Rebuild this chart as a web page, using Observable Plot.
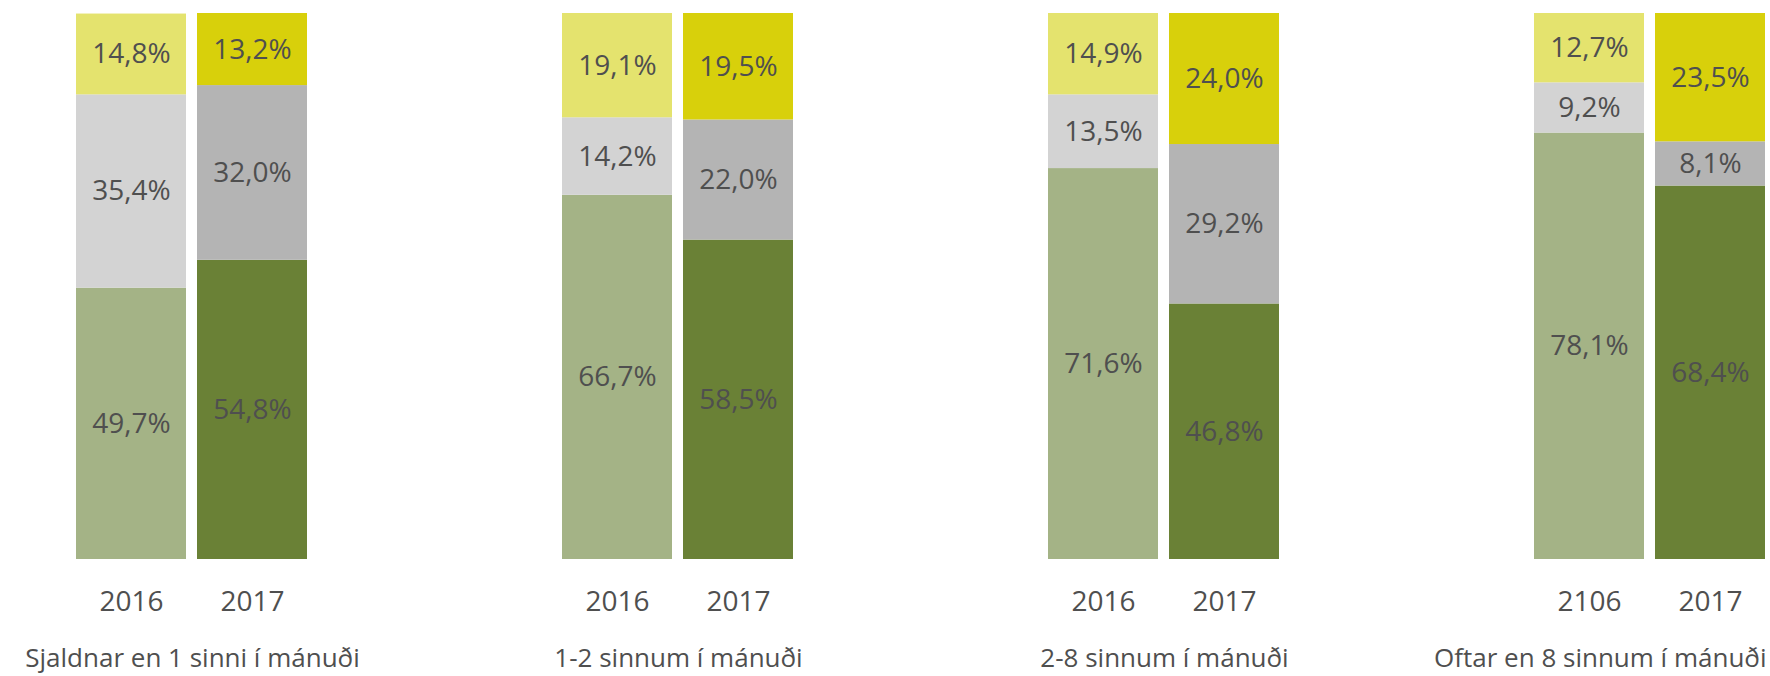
<!DOCTYPE html>
<html>
<head>
<meta charset="utf-8">
<script src="https://cdn.jsdelivr.net/npm/d3@7"></script>
<script src="https://cdn.jsdelivr.net/npm/@observablehq/plot@0.6"></script>
<style>
  html, body { margin: 0; padding: 0; background: #fff; }
  #chart svg { display: block; }
</style>
</head>
<body>
<div id="chart"></div>
<script>
// ---- data ----
const categories = [
  "Sjaldnar en 1 sinni í mánuði",
  "1-2 sinnum í mánuði",
  "2-8 sinnum í mánuði",
  "Oftar en 8 sinnum í mánuði"
];
const years = ["2016", "2017"];
const yearTickLabels = [
  ["2016", "2017"],
  ["2016", "2017"],
  ["2016", "2017"],
  ["2106", "2017"]
];
const series = ["s1", "s2", "s3"]; // bottom, middle, top segment
const s1_2016 = [49.7, 66.7, 71.6, 78.1];
const s1_2017 = [54.8, 58.5, 46.8, 68.4];
const s2_2016 = [35.4, 14.2, 13.5, 9.2];
const s2_2017 = [32.0, 22.0, 29.2, 8.1];
const s3_2016 = [14.8, 19.1, 14.9, 12.7];
const s3_2017 = [13.2, 19.5, 24.0, 23.5];

// ---- styles ----
const palette = {
  "2016-s1": "#a4b386", "2017-s1": "#6a8136",
  "2016-s2": "#d3d3d3", "2017-s2": "#b4b4b4",
  "2016-s3": "#e4e36e", "2017-s3": "#d8d00b"
};
const textColor = "#4f4f4f";
const font = "'Open Sans', sans-serif";

// ---- build tables ----
const valueTable = {
  "2016": {s1: s1_2016, s2: s2_2016, s3: s3_2016},
  "2017": {s1: s1_2017, s2: s2_2017, s3: s3_2017}
};
const rows = [];
categories.forEach((cat, i) => {
  years.forEach(year => {
    series.forEach(s => {
      rows.push({cat, year, series: s, value: valueTable[year][s][i], key: year + "-" + s});
    });
  });
});
const yearRows = [];
categories.forEach((cat, i) => {
  years.forEach((year, j) => yearRows.push({cat, year, label: yearTickLabels[i][j]}));
});
const fmt = v => v.toFixed(1).replace(".", ",") + "%";

const chart = Plot.plot({
  width: 1770,
  height: 676,
  marginTop: 13,
  marginBottom: 117,
  marginLeft: 75,
  marginRight: 3,
  style: {fontFamily: font, background: "#fff"},
  fx: {domain: categories, paddingInner: 0.5236, paddingOuter: 0, axis: null, label: null},
  x: {domain: years, paddingInner: 0.09, paddingOuter: 0, axis: null, label: null},
  y: {domain: [0, 100], axis: null, label: null},
  color: {domain: Object.keys(palette), range: Object.values(palette)},
  marks: [
    Plot.barY(rows, {fx: "cat", x: "year", y: "value", z: "series", fill: "key"}),
    Plot.text(rows, Plot.stackY({
      fx: "cat", x: "year", y: "value", z: "series",
      text: d => fmt(d.value), fill: textColor, fontSize: 28
    })),
    Plot.text(yearRows, {
      fx: "cat", x: "year", text: "label", frameAnchor: "bottom",
      lineAnchor: "middle", dy: 43, fill: textColor, fontSize: 28
    }),
    Plot.text(categories.slice(0, 3), {
      fx: d => d, text: d => d, frameAnchor: "bottom",
      lineAnchor: "bottom", dy: 107, fill: textColor, fontSize: 26
    }),
    Plot.text(categories.slice(3), {
      fx: d => d, text: d => d, frameAnchor: "bottom-right", textAnchor: "end",
      lineAnchor: "bottom", dy: 107, fill: textColor, fontSize: 26
    })
  ]
});
document.getElementById("chart").appendChild(chart);
</script>
</body>
</html>
